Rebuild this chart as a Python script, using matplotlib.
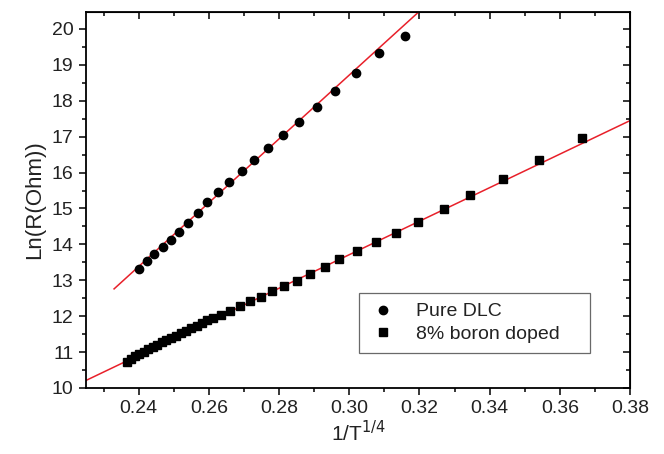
import matplotlib
matplotlib.use('Agg')
import matplotlib.pyplot as plt
from matplotlib.ticker import MultipleLocator
import numpy as np

plt.rcParams['font.family'] = ['Liberation Sans', 'DejaVu Sans']

# Pure DLC data (1/T^1/4, ln R)
dlc_x = [0.2400, 0.2423, 0.2444, 0.2468, 0.2492, 0.2515, 0.2541, 0.2568,
         0.2596, 0.2626, 0.2658, 0.2693, 0.2729, 0.2769, 0.2810, 0.2857,
         0.2907, 0.2959, 0.3019, 0.3086, 0.3160]
dlc_y = [13.32, 13.53, 13.72, 13.93, 14.13, 14.35, 14.60, 14.88,
         15.18, 15.45, 15.75, 16.04, 16.34, 16.68, 17.05, 17.42,
         17.84, 18.28, 18.78, 19.34, 19.81]

# 8% boron doped data
bor_x = [0.2366, 0.2378, 0.2390, 0.2402, 0.2414, 0.2427, 0.2440, 0.2453,
         0.2466, 0.2479, 0.2493, 0.2507, 0.2521, 0.2535, 0.2550, 0.2565,
         0.2580, 0.2595, 0.2611, 0.2636, 0.2660, 0.2688, 0.2717, 0.2748,
         0.2780, 0.2814, 0.2851, 0.2887, 0.2930, 0.2970, 0.3023, 0.3077,
         0.3133, 0.3197, 0.3269, 0.3345, 0.3437, 0.3539, 0.3662]
bor_y = [10.73, 10.82, 10.89, 10.95, 11.01, 11.08, 11.14, 11.20,
         11.27, 11.33, 11.40, 11.46, 11.53, 11.60, 11.67, 11.74,
         11.81, 11.88, 11.96, 12.04, 12.15, 12.27, 12.41, 12.54,
         12.69, 12.83, 12.99, 13.18, 13.38, 13.58, 13.82, 14.06,
         14.33, 14.62, 14.99, 15.38, 15.82, 16.35, 16.96]

# linear fits: (x range, intercept at x0, slope)
dlc_fit_x = [0.233, 0.330]
dlc_fit = (0.233, 12.76, 88.9)
bor_fit_x = [0.225, 0.380]
bor_fit = (0.225, 10.21, 46.7)

fig = plt.figure(figsize=(6.64, 4.54), dpi=100)
ax = fig.add_axes([0.1295, 0.1454, 0.8195, 0.8288])

red = '#e8202a'
fx = np.array(dlc_fit_x)
ax.plot(fx, dlc_fit[1] + dlc_fit[2] * (fx - dlc_fit[0]), color=red, lw=1.1)
fx = np.array(bor_fit_x)
ax.plot(fx, bor_fit[1] + bor_fit[2] * (fx - bor_fit[0]), color=red, lw=1.1)

ax.plot(dlc_x, dlc_y, 'o', color='black', ms=6, label='Pure DLC')
ax.plot(bor_x, bor_y, 's', color='black', ms=5.5, label='8% boron doped')

ax.set_xlim(0.225, 0.38)
ax.set_ylim(10, 20.48)
ax.xaxis.set_minor_locator(MultipleLocator(0.01))
ax.yaxis.set_major_locator(MultipleLocator(1))
ax.yaxis.set_minor_locator(MultipleLocator(0.5))
ax.set_xticks(np.arange(0.24, 0.381, 0.02))
ax.set_xticklabels(['%.2f' % v for v in np.arange(0.24, 0.381, 0.02)])

for s in ax.spines.values():
    s.set_linewidth(1.3)
ax.tick_params(which='major', direction='out', length=5, width=1.1,
               labelsize=14, pad=4, labelcolor='#222222')
ax.tick_params(which='minor', direction='out', length=3, width=1.1)

# mirrored ticks pointing inward on top and right
top = ax.secondary_xaxis('top')
top.set_xticks(np.arange(0.24, 0.381, 0.02))
top.xaxis.set_minor_locator(MultipleLocator(0.01))
top.tick_params(which='major', direction='in', length=5, width=1.1, labeltop=False)
top.tick_params(which='minor', direction='in', length=3, width=1.1)
right = ax.secondary_yaxis('right')
right.yaxis.set_major_locator(MultipleLocator(1))
right.yaxis.set_minor_locator(MultipleLocator(0.5))
right.tick_params(which='major', direction='in', length=5, width=1.1, labelright=False)
right.tick_params(which='minor', direction='in', length=3, width=1.1)

ax.set_xlabel(r'1/T$^{1/4}$', fontsize=15, labelpad=2, color='#222222')
ax.set_ylabel('Ln(R(Ohm))', fontsize=16, labelpad=5, color='#222222')

leg = ax.legend(loc='lower left', bbox_to_anchor=(0.502, 0.094, 0.424, 0.157),
                mode='expand', borderaxespad=0,
                fontsize=14, frameon=True, fancybox=False, edgecolor='#444444',
                handletextpad=0.9, borderpad=0.5, labelspacing=0.25,
                handlelength=1.5)
for t in leg.get_texts():
    t.set_color('#222222')
leg.get_frame().set_linewidth(0.9)

fig.savefig('out.png', dpi=100)
